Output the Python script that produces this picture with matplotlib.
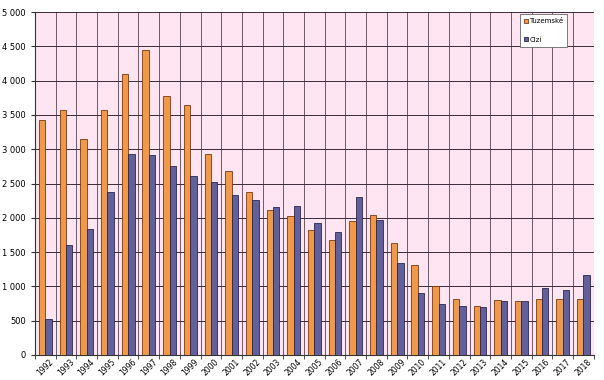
import matplotlib.pyplot as plt
import numpy as np
from matplotlib.ticker import FuncFormatter

# data
years = ["1992", "1993", "1994", "1995", "1996", "1997", "1998", "1999", "2000",
         "2001", "2002", "2003", "2004", "2005", "2006", "2007", "2008", "2009",
         "2010", "2011", "2012", "2013", "2014", "2015", "2016", "2017", "2018"]
tuzemske = [3420, 3570, 3150, 3570, 4100, 4450, 3780, 3650, 2930,
            2680, 2370, 2110, 2020, 1820, 1680, 1960, 2040, 1630,
            1310, 1000, 820, 710, 800, 790, 820, 810, 820]
cizi = [530, 1600, 1840, 2370, 2930, 2910, 2760, 2610, 2520,
        2340, 2260, 2160, 2170, 1920, 1790, 2300, 1970, 1340,
        910, 740, 720, 700, 780, 780, 970, 950, 1170]

fig = plt.figure(figsize=(6.04, 3.8), dpi=100)
ax = fig.add_axes([0.058, 0.066, 0.925, 0.902])
ax.set_facecolor("#ffe4f2")

x = np.arange(len(years))
w = 0.31
ax.bar(x - w / 2, tuzemske, w, color="#f0994a", edgecolor="#7a3a10", linewidth=0.6,
       label="Tuzemské", zorder=3)
ax.bar(x + w / 2, cizi, w, color="#62609a", edgecolor="#2a2850", linewidth=0.6,
       label="Cizí", zorder=3)

ax.set_xlim(-0.5, len(years) - 0.5)
ax.set_ylim(0, 5000)
ax.set_yticks(np.arange(0, 5001, 500))
ax.yaxis.set_major_formatter(FuncFormatter(lambda v, p: f"{int(v):,}".replace(",", " ")))

ax.set_xticks(x)
ax.set_xticklabels(years, rotation=45, fontsize=5.5)
ax.set_xticks(np.arange(-0.5, len(years)), minor=True)
ax.tick_params(axis="x", which="major", length=0, pad=2)
ax.tick_params(axis="x", which="minor", length=3, color="#333333")
ax.tick_params(axis="y", labelsize=6, length=3, color="#333333")

ax.grid(True, axis="y", color="#3a2a3a", linewidth=0.7, zorder=1)
ax.grid(True, axis="x", which="minor", color="#6a5a6a", linewidth=0.7, zorder=1)

for s in ["top", "right"]:
    ax.spines[s].set_visible(False)
for s in ["left", "bottom"]:
    ax.spines[s].set_color("#333333")
    ax.spines[s].set_linewidth(0.8)

leg = ax.legend(loc="upper right", bbox_to_anchor=(0.953, 0.994), fontsize=5,
                handlelength=0.5, handleheight=0.5, labelspacing=1.8,
                borderpad=0.6, borderaxespad=0, handletextpad=0.2,
                fancybox=False, framealpha=1)
leg.get_frame().set_edgecolor("#666666")
leg.get_frame().set_linewidth(0.6)

plt.savefig("out.png", dpi=100)
